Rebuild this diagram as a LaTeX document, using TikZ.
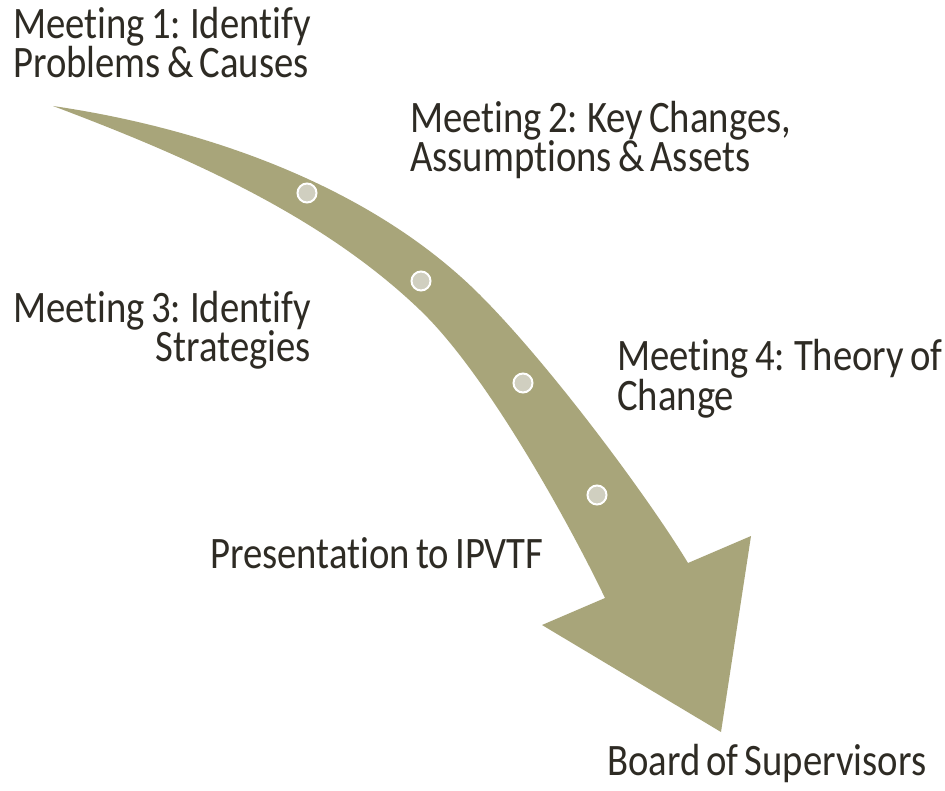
\documentclass[tikz,border=0pt]{standalone}
\usepackage{fontspec}
\setmainfont{Carlito}[FakeStretch=0.86,Ligatures=NoCommon,WordSpace=0.7]
\usepackage{tikz}
\definecolor{shaft}{HTML}{A8A57A}
\definecolor{dot}{HTML}{D0CFC0}
\definecolor{ink}{HTML}{2E2B24}
\tikzset{
  lbl/.style={inner sep=0pt,text=ink,font=\fontsize{45}{35}\selectfont},
  stop/.style={circle,draw=white,line width=2pt,fill=dot,minimum size=19pt,inner sep=0pt}
}
\begin{document}
\begin{tikzpicture}[x=1pt,y=-1pt]

\path[use as bounding box,fill=white] (0,0) rectangle (945,791);

\fill[shaft] (53,106) .. controls (203,128) and (370,185) .. (480,295)
  .. controls (550,365) and (648,497) .. (688,563)
  -- (751,536) -- (721,732) -- (542,625) -- (605,598)
  .. controls (575,535) and (490,377) .. (420,310)
  .. controls (320,214) and (183,155) .. cycle;

\node[stop] (d1) at (307,193) {};
\node[stop] (d2) at (421,281) {};
\node[stop] (d3) at (523,383) {};
\node[stop] (d4) at (597,495) {};

\node[lbl,anchor=base west,align=left] (m1) at (13,78) {Meeting 1: Identify\\Problems \& Causes};
\node[lbl,anchor=base west,align=left] (m2) at (410,172) {Meeting 2: Key Changes,\\Assumptions \& Assets};
\node[lbl,anchor=base east,align=right] (m3) at (311,362) {Meeting 3: Identify\\Strategies};
\node[lbl,anchor=base west,align=left] (m4) at (617,410) {Meeting 4: Theory of\\Change};
\node[lbl,anchor=base west] (p1) at (210,568) {Presentation to IPVTF};
\node[lbl,anchor=base west] (b1) at (607,775) {Board of Supervisors};

\end{tikzpicture}
\end{document}
